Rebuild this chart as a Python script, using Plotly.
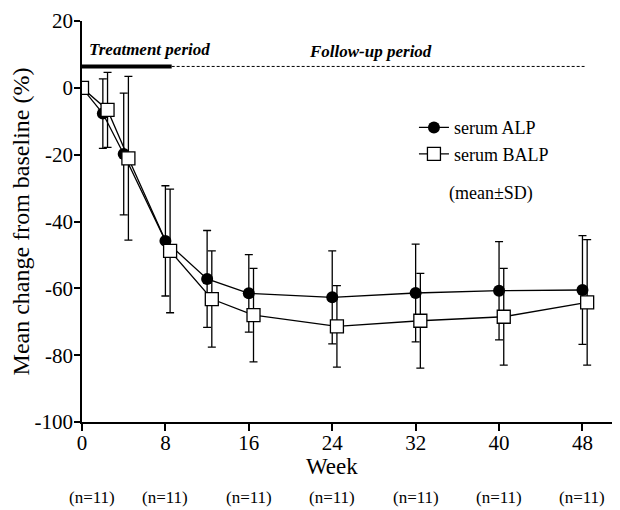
import plotly.graph_objects as go

weeks = [0, 2, 4, 8, 12, 16, 24, 32, 40, 48]
alp_mean = [0, -7.7, -19.8, -45.8, -57.2, -61.5, -62.7, -61.4, -60.7, -60.5]
alp_sd = [0, 10.4, 18.2, 16.5, 14.5, 11.6, 13.9, 14.6, 14.7, 16.3]
balp_mean = [0, -6.6, -21.1, -48.8, -63.2, -68.0, -71.4, -69.7, -68.5, -64.2]
balp_sd = [0, 11.2, 24.5, 18.5, 14.4, 14.0, 12.2, 14.2, 14.5, 18.8]

x_ticks = [0, 8, 16, 24, 32, 40, 48]
n_labels = ["(n=11)"] * 7
y_ticks = [20, 0, -20, -40, -60, -80, -100]

FONT = "Times New Roman, Liberation Serif, serif"
offset = 0.45
balp_x = [w + offset if w > 0 else w for w in weeks]

fig = go.Figure()
fig.add_trace(go.Scatter(
    x=weeks, y=alp_mean, mode="lines+markers", name="serum ALP",
    line=dict(color="black", width=1.3),
    marker=dict(symbol="circle", size=12, color="black"),
    error_y=dict(type="data", array=alp_sd, visible=True, color="black", thickness=1.3, width=4),
))
fig.add_trace(go.Scatter(
    x=balp_x, y=balp_mean, mode="lines+markers", name="serum BALP",
    line=dict(color="black", width=1.3),
    marker=dict(symbol="square", size=13, color="white", line=dict(color="black", width=1.3)),
    error_y=dict(type="data", array=balp_sd, visible=True, color="black", thickness=1.3, width=4),
))

# period bars
fig.add_shape(type="line", x0=0, x1=8.6, y0=6.4, y1=6.4, xref="x", yref="y",
              line=dict(color="black", width=4))
fig.add_shape(type="line", x0=8.6, x1=48.2, y0=6.4, y1=6.4, xref="x", yref="y",
              line=dict(color="black", width=1, dash="3px,2px"))
fig.add_annotation(x=0.5, y=11.6, xref="x", yref="y", text="<b><i>Treatment period</i></b>",
                   showarrow=False, xanchor="left", yanchor="middle",
                   font=dict(family=FONT, size=17, color="black"))
fig.add_annotation(x=21.6, y=11.0, xref="x", yref="y", text="<b><i>Follow-up period</i></b>",
                   showarrow=False, xanchor="left", yanchor="middle",
                   font=dict(family=FONT, size=17, color="black"))
fig.add_annotation(x=39.2, y=-31.5, xref="x", yref="y", text="(mean\u00b1SD)",
                   showarrow=False, xanchor="center", yanchor="middle",
                   font=dict(family=FONT, size=18, color="black"))

fig.add_annotation(x=24, y=-0.111, xref="x", yref="paper", text="Week",
                   showarrow=False, xanchor="center", yanchor="middle",
                   font=dict(family=FONT, size=23, color="black"))
for i, (xt, lab) in enumerate(zip(x_ticks, n_labels)):
    fig.add_annotation(x=xt + (1.0 if i == 0 else 0), y=-0.188, xref="x", yref="paper", text=lab,
                       showarrow=False, xanchor="center", yanchor="middle",
                       font=dict(family=FONT, size=17, color="black"))

fig.update_layout(
    width=612, height=502,
    margin=dict(l=74, r=0, t=13, b=88),
    paper_bgcolor="white", plot_bgcolor="white",
    showlegend=True,
    legend=dict(x=0.617, y=0.78, xanchor="left", yanchor="top",
                font=dict(family=FONT, size=18, color="black"),
                bgcolor="rgba(0,0,0,0)", tracegroupgap=0, itemwidth=30),
    font=dict(family=FONT, color="black"),
)
fig.update_xaxes(range=[0, 51.6], tickvals=x_ticks, ticktext=[str(t) for t in x_ticks],
                 showline=True, linecolor="black", linewidth=1.5, ticks="outside",
                 ticklen=7, tickwidth=1.5, tickcolor="black", showgrid=False, zeroline=False,
                 ticklabelstandoff=-6,
                 tickfont=dict(family=FONT, size=21, color="black"))
fig.update_yaxes(range=[-100, 20], tickvals=y_ticks, ticktext=[str(t) for t in y_ticks],
                 showline=True, linecolor="black", linewidth=1.5, ticks="outside",
                 ticklen=6, tickwidth=1.5, tickcolor="black", showgrid=False, zeroline=False,
                 ticklabelstandoff=-3,
                 tickfont=dict(family=FONT, size=21, color="black"),
                 title=dict(text="Mean change from baseline (%)", standoff=6,
                            font=dict(family=FONT, size=24, color="black")))

fig.write_html("out.html")
